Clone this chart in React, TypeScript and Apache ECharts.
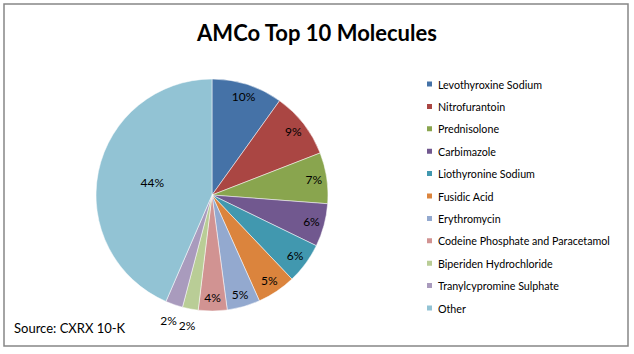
import React, { useEffect, useRef } from "react";
import * as echarts from "echarts";

const categories = [
  "Levothyroxine Sodium",
  "Nitrofurantoin",
  "Prednisolone",
  "Carbimazole",
  "Liothyronine Sodium",
  "Fusidic Acid",
  "Erythromycin",
  "Codeine Phosphate and Paracetamol",
  "Biperiden Hydrochloride",
  "Tranylcypromine Sulphate",
  "Other",
];
const shares = [9.9, 9.2, 7.1, 6.0, 5.7, 5.4, 4.6, 4.0, 2.2, 2.4, 43.5];
const colors = [
  "#4572A7", "#AA4643", "#89A54E", "#71588F", "#4198AF", "#DB843D",
  "#93A9CF", "#D19392", "#B9CD96", "#A99BBD", "#92C3D4",
];
const titleText = "AMCo Top 10 Molecules";
const sourceText = "Source: CXRX 10-K";

const FONT = "Lato, 'Open Sans', sans-serif";

export default function App() {
  const ref = useRef<HTMLDivElement>(null);
  useEffect(() => {
    if (!ref.current) return;
    const chart = echarts.init(ref.current, null, { renderer: "svg" });
    const total = shares.reduce((a, b) => a + b, 0);
    const pct = (v: number) => Math.round((v / total) * 100) + "%";
    const data = categories.map((name, i) => ({
      name,
      value: shares[i],
      itemStyle: { color: colors[i] },
    }));
    const center = [212, 195];
    const labelStyle = {
      fontFamily: FONT,
      fontSize: 12,
      color: "#000",
    };
    const overlay = (radius: [number, number], showIdx: number[]) => ({
      type: "pie",
      silent: true,
      center,
      radius,
      startAngle: 90,
      clockwise: true,
      z: 5,
      itemStyle: { color: "transparent", borderWidth: 0 },
      label: {
        show: true,
        position: "inside",
        ...labelStyle,
        formatter: (p: any) => (showIdx.includes(p.dataIndex) ? pct(p.value) : ""),
      },
      labelLine: { show: false },
      emphasis: { disabled: true },
      data: categories.map((name, i) => ({ name: name + " ", value: shares[i] })),
    });
    chart.setOption({
      animation: false,
      title: {
        text: titleText,
        left: "center",
        top: 16,
        textStyle: { fontFamily: FONT, fontSize: 22, fontWeight: "bold", color: "#000" },
      },
      legend: {
        orient: "vertical",
        left: 425,
        top: 77,
        padding: 0,
        itemWidth: 7,
        itemHeight: 7,
        itemGap: 8.4,
        icon: "rect",
        data: categories,
        textStyle: { fontFamily: FONT, fontSize: 10.7, color: "#000", lineHeight: 14 },
        selectedMode: false,
      },
      graphic: [
        {
          type: "rect",
          shape: { x: 4, y: 4, width: 624, height: 342 },
          style: { fill: "none", stroke: "#868686", lineWidth: 1.5 },
          z: 0,
        },
        {
          type: "text",
          left: 14,
          top: 321,
          style: { text: sourceText, fontFamily: FONT, fontSize: 13, fill: "#000" },
        },
      ],
      series: [
        {
          type: "pie",
          center,
          radius: [0, 116],
          startAngle: 90,
          clockwise: true,
          itemStyle: { borderColor: "#fff", borderWidth: 0.5 },
          label: {
            show: true,
            position: "inside",
            ...labelStyle,
            formatter: (p: any) => (p.dataIndex === 10 ? pct(p.value) : ""),
          },
          labelLine: { show: false },
          emphasis: { disabled: true },
          data,
        },
        overlay([84, 116], [0, 1, 2, 3, 4, 5, 6, 7]),
        overlay([118, 142], [8, 9]),
      ],
    });
    return () => chart.dispose();
  }, []);
  return (
    <div
      ref={ref}
      style={{ position: "fixed", left: 0, top: 0, width: 634, height: 354, background: "#fff" }}
    />
  );
}
